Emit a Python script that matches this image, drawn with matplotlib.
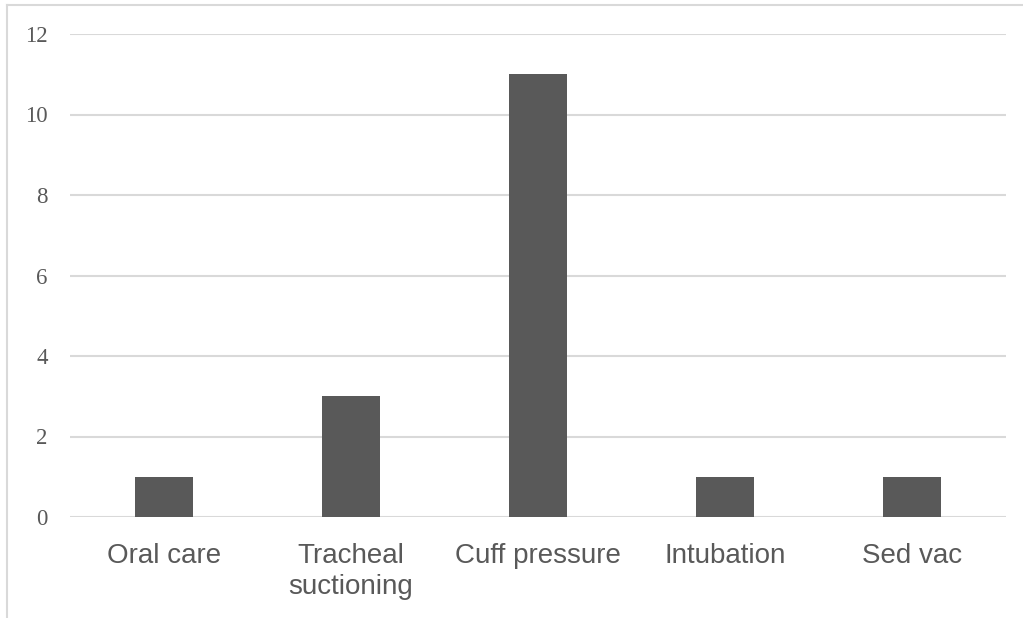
import matplotlib
matplotlib.use("Agg")
import matplotlib.pyplot as plt
from matplotlib.lines import Line2D

categories = ["Oral care", "Tracheal\nsuctioning", "Cuff pressure", "Intubation", "Sed vac"]
counts = [1, 3, 11, 1, 1]
y_ticks = [0, 2, 4, 6, 8, 10, 12]

W, H = 1023, 618
fig = plt.figure(figsize=(W / 100, H / 100), dpi=100)

# plot area in pixels: x 70..1006, y 34 (=12) .. 517 (=0)
ax = fig.add_axes([70 / W, 1 - 517 / H, (1006 - 70) / W, (517 - 34) / H])

x = range(len(categories))
ax.bar(x, counts, width=0.31, color="#595959", zorder=3)

ax.set_xlim(-0.5, len(categories) - 0.5)
ax.set_ylim(0, 12)
ax.set_yticks(y_ticks)
ax.set_yticklabels([str(t) for t in y_ticks], family="Liberation Serif", fontsize=16.5, color="#595959")
ax.set_xticks(list(x))
ax.set_xticklabels(categories, family="Liberation Sans", fontsize=20, color="#595959",
                   linespacing=1.25)
ax.tick_params(axis="both", length=0)
ax.tick_params(axis="y", pad=16)
ax.tick_params(axis="x", pad=18.5)
ax.grid(axis="y", color="#d9d9d9", linewidth=1.5, zorder=0)
for s in ax.spines.values():
    s.set_visible(False)

# outer chart border (only top and left visible in the crop)
fig.add_artist(Line2D([7 / W, 1.0], [1 - 5 / H, 1 - 5 / H], color="#d9d9d9", linewidth=1.5))
fig.add_artist(Line2D([7 / W, 7 / W], [0.0, 1 - 5 / H], color="#d9d9d9", linewidth=1.5))

fig.savefig("out.png", dpi=100)
